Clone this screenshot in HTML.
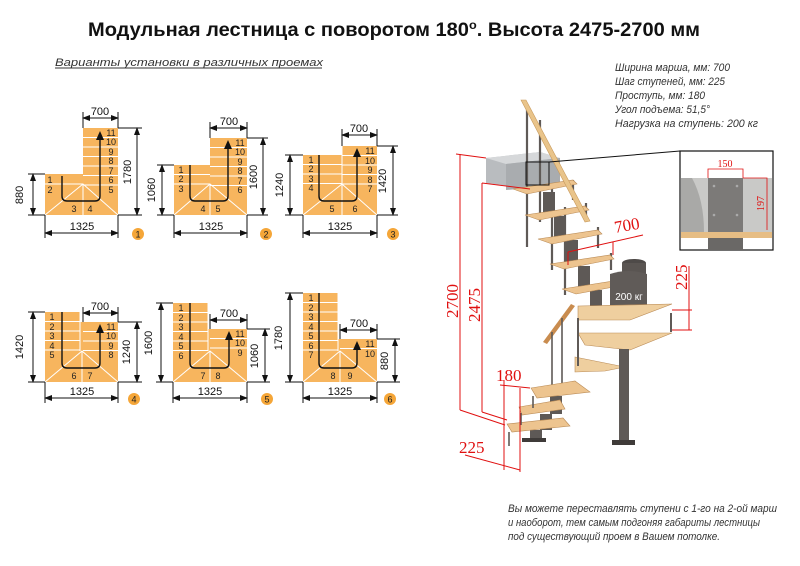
<!DOCTYPE html>
<html><head><meta charset="utf-8"><style>
html,body{margin:0;padding:0;background:#fff}
svg{display:block}
.t{font-family:"Liberation Sans",sans-serif}
.n{font-family:"Liberation Sans",sans-serif;font-size:9px;fill:#222}
.d{font-family:"Liberation Sans",sans-serif;font-size:11px;fill:#111}
.it{font-family:"Liberation Sans",sans-serif;font-style:italic;font-size:11px;fill:#333}
.r{font-family:"Liberation Serif",serif;font-size:17px;fill:#e01010}
</style></head><body>
<svg width="800" height="566" viewBox="0 0 800 566" xmlns="http://www.w3.org/2000/svg">
<defs>
<marker id="a" markerWidth="8" markerHeight="8" refX="7" refY="4" orient="auto-start-reverse" markerUnits="userSpaceOnUse"><path d="M0,1 L8,4 L0,7z" fill="#111"/></marker>
</defs>
<rect width="800" height="566" fill="#fff"/>
<text class="t" x="88" y="36" font-size="19" font-weight="bold" textLength="612" lengthAdjust="spacingAndGlyphs" fill="#111">Модульная лестница с поворотом 180<tspan dy="-7" font-size="12">o</tspan><tspan dy="7">. Высота 2475-2700 мм</tspan></text>
<text class="it" x="55" y="66" font-size="12" textLength="268" lengthAdjust="spacingAndGlyphs">Варианты установки в различных проемах</text>
<line x1="55" y1="68" x2="322" y2="68" stroke="#333" stroke-width="1"/>
<g class="it" font-size="11">
<text x="615" y="71" textLength="115" lengthAdjust="spacingAndGlyphs">Ширина марша, мм: 700</text>
<text x="615" y="85" textLength="110" lengthAdjust="spacingAndGlyphs">Шаг ступеней, мм: 225</text>
<text x="615" y="99" textLength="90" lengthAdjust="spacingAndGlyphs">Проступь, мм: 180</text>
<text x="615" y="113" textLength="95" lengthAdjust="spacingAndGlyphs">Угол подъема: 51,5°</text>
<text x="615" y="127" textLength="143" lengthAdjust="spacingAndGlyphs">Нагрузка на ступень: 200 кг</text>
</g>
<g class="it" font-size="10.5">
<text x="508" y="512" textLength="269" lengthAdjust="spacingAndGlyphs">Вы можете переставлять ступени с 1-го на 2-ой марш</text>
<text x="508" y="526" textLength="252" lengthAdjust="spacingAndGlyphs">и наоборот, тем самым подгоняя габариты лестницы</text>
<text x="508" y="540" textLength="212" lengthAdjust="spacingAndGlyphs">под существующий проем в Вашем потолке.</text>
</g>

<!-- PLAN 1 -->
<g>
<path d="M45,174H83V128H118V215H45z" fill="#f7b55e"/>
<g stroke="#fff" stroke-width="1" fill="none">
<line x1="83" y1="137.5" x2="118" y2="137.5"/><line x1="83" y1="147" x2="118" y2="147"/><line x1="83" y1="156.5" x2="118" y2="156.5"/><line x1="83" y1="166" x2="118" y2="166"/><line x1="83" y1="175.5" x2="118" y2="175.5"/><line x1="83" y1="185" x2="118" y2="185"/>
<line x1="45" y1="184" x2="83" y2="184"/>
<path d="M45,215L83,184L118,215M83,184V215"/>
</g>
<g class="n" text-anchor="middle"><text x="50" y="183">1</text><text x="50" y="193">2</text><text x="74" y="212">3</text><text x="90" y="212">4</text>
<text x="111" y="136">11</text><text x="111" y="145">10</text><text x="111" y="155">9</text><text x="111" y="164">8</text><text x="111" y="174">7</text><text x="111" y="183">6</text><text x="111" y="193">5</text></g>
<path d="M62,176V196Q62,201 67,201H95Q100,201 100,196V136" stroke="#111" stroke-width="1.4" fill="none"/><path d="M96,140L100,131L104,140z" fill="#111"/>
<g stroke="#111" stroke-width="1" fill="none"><line x1="83" y1="118" x2="118" y2="118" marker-start="url(#a)" marker-end="url(#a)"/><line x1="83" y1="112" x2="83" y2="128"/><line x1="118" y1="112" x2="118" y2="128"/>
<line x1="137" y1="128" x2="137" y2="215" marker-start="url(#a)" marker-end="url(#a)"/><line x1="118" y1="128" x2="142" y2="128"/>
<line x1="33" y1="174" x2="33" y2="215" marker-start="url(#a)" marker-end="url(#a)"/><line x1="28" y1="174" x2="45" y2="174"/><line x1="28" y1="215" x2="45" y2="215"/><line x1="118" y1="215" x2="142" y2="215"/>
<line x1="45" y1="233" x2="118" y2="233" marker-start="url(#a)" marker-end="url(#a)"/><line x1="45" y1="215" x2="45" y2="238"/><line x1="118" y1="215" x2="118" y2="238"/></g>
<g class="d" text-anchor="middle"><text x="100" y="115">700</text><text x="82" y="230">1325</text><text transform="translate(131,172) rotate(-90)">1780</text><text transform="translate(23,195) rotate(-90)">880</text></g>
<circle cx="138" cy="234" r="6" fill="#f5a638"/><text class="n" x="138" y="237.5" text-anchor="middle">1</text>
</g>

<!-- PLAN 2 -->
<g>
<path d="M174,165H210V138H247V215H174z" fill="#f7b55e"/>
<g stroke="#fff" stroke-width="1" fill="none">
<line x1="210" y1="147.5" x2="247" y2="147.5"/><line x1="210" y1="157" x2="247" y2="157"/><line x1="210" y1="166.5" x2="247" y2="166.5"/><line x1="210" y1="176" x2="247" y2="176"/><line x1="210" y1="185.5" x2="247" y2="185.5"/>
<line x1="174" y1="174.5" x2="210" y2="174.5"/><line x1="174" y1="184" x2="210" y2="184"/>
<path d="M174,215L210,184L247,215M210,184V215"/>
</g>
<g class="n" text-anchor="middle"><text x="181" y="173">1</text><text x="181" y="182">2</text><text x="181" y="192">3</text><text x="203" y="212">4</text><text x="218" y="212">5</text>
<text x="240" y="146">11</text><text x="240" y="155">10</text><text x="240" y="165">9</text><text x="240" y="174">8</text><text x="240" y="184">7</text><text x="240" y="193">6</text></g>
<path d="M190,165V196Q190,201 195,201H223Q228,201 228,196V146" stroke="#111" stroke-width="1.4" fill="none"/><path d="M224,149L228,140L232,149z" fill="#111"/>
<g stroke="#111" stroke-width="1" fill="none"><line x1="210" y1="128" x2="247" y2="128" marker-start="url(#a)" marker-end="url(#a)"/><line x1="210" y1="122" x2="210" y2="138"/><line x1="247" y1="122" x2="247" y2="138"/>
<line x1="263" y1="138" x2="263" y2="215" marker-start="url(#a)" marker-end="url(#a)"/><line x1="247" y1="138" x2="268" y2="138"/><line x1="247" y1="215" x2="268" y2="215"/>
<line x1="162" y1="165" x2="162" y2="215" marker-start="url(#a)" marker-end="url(#a)"/><line x1="157" y1="165" x2="174" y2="165"/><line x1="157" y1="215" x2="174" y2="215"/>
<line x1="174" y1="233" x2="247" y2="233" marker-start="url(#a)" marker-end="url(#a)"/><line x1="174" y1="215" x2="174" y2="238"/><line x1="247" y1="215" x2="247" y2="238"/></g>
<g class="d" text-anchor="middle"><text x="229" y="125">700</text><text x="211" y="230">1325</text><text transform="translate(257,177) rotate(-90)">1600</text><text transform="translate(155,190) rotate(-90)">1060</text></g>
<circle cx="266" cy="234" r="6" fill="#f5a638"/><text class="n" x="266" y="237.5" text-anchor="middle">2</text>
</g>

<!-- PLAN 3 -->
<g>
<path d="M303,155H342V146H377V215H303z" fill="#f7b55e"/>
<g stroke="#fff" stroke-width="1" fill="none">
<line x1="342" y1="155.5" x2="377" y2="155.5"/><line x1="342" y1="165" x2="377" y2="165"/><line x1="342" y1="174.5" x2="377" y2="174.5"/><line x1="342" y1="184" x2="377" y2="184"/>
<line x1="303" y1="164.5" x2="342" y2="164.5"/><line x1="303" y1="174" x2="342" y2="174"/><line x1="303" y1="183.5" x2="342" y2="183.5"/>
<line x1="342" y1="146" x2="342" y2="184"/>
<path d="M303,215L342,184L377,215M342,184V215"/>
</g>
<g class="n" text-anchor="middle"><text x="311" y="163">1</text><text x="311" y="172">2</text><text x="311" y="182">3</text><text x="311" y="191">4</text><text x="332" y="212">5</text><text x="355" y="212">6</text>
<text x="370" y="154">11</text><text x="370" y="164">10</text><text x="370" y="173">9</text><text x="370" y="183">8</text><text x="370" y="192">7</text></g>
<path d="M319,155V196Q319,201 324,201H352Q357,201 357,196V154" stroke="#111" stroke-width="1.4" fill="none"/><path d="M353,157L357,148L361,157z" fill="#111"/>
<g stroke="#111" stroke-width="1" fill="none"><line x1="342" y1="135" x2="377" y2="135" marker-start="url(#a)" marker-end="url(#a)"/><line x1="342" y1="129" x2="342" y2="146"/><line x1="377" y1="129" x2="377" y2="146"/>
<line x1="393" y1="146" x2="393" y2="215" marker-start="url(#a)" marker-end="url(#a)"/><line x1="377" y1="146" x2="398" y2="146"/><line x1="377" y1="215" x2="398" y2="215"/>
<line x1="290" y1="155" x2="290" y2="215" marker-start="url(#a)" marker-end="url(#a)"/><line x1="285" y1="155" x2="303" y2="155"/><line x1="285" y1="215" x2="303" y2="215"/>
<line x1="303" y1="233" x2="377" y2="233" marker-start="url(#a)" marker-end="url(#a)"/><line x1="303" y1="215" x2="303" y2="238"/><line x1="377" y1="215" x2="377" y2="238"/></g>
<g class="d" text-anchor="middle"><text x="359" y="132">700</text><text x="340" y="230">1325</text><text transform="translate(386,181) rotate(-90)">1420</text><text transform="translate(283,185) rotate(-90)">1240</text></g>
<circle cx="393" cy="234" r="6" fill="#f5a638"/><text class="n" x="393" y="237.5" text-anchor="middle">3</text>
</g>

<!-- PLAN 4 -->
<g>
<path d="M45,312H80V322H118V382H45z" fill="#f7b55e"/>
<g stroke="#fff" stroke-width="1" fill="none">
<line x1="80" y1="312" x2="80" y2="351"/>
<line x1="45" y1="321.5" x2="80" y2="321.5"/><line x1="45" y1="331" x2="80" y2="331"/><line x1="45" y1="340.5" x2="80" y2="340.5"/><line x1="45" y1="350" x2="80" y2="350"/>
<line x1="83" y1="331.5" x2="118" y2="331.5"/><line x1="83" y1="341" x2="118" y2="341"/><line x1="83" y1="350.5" x2="118" y2="350.5"/>
<path d="M45,382L82,351L118,382M82,351V382"/>
</g>
<g class="n" text-anchor="middle"><text x="52" y="320">1</text><text x="52" y="330">2</text><text x="52" y="339">3</text><text x="52" y="349">4</text><text x="52" y="358">5</text><text x="74" y="379">6</text><text x="90" y="379">7</text>
<text x="111" y="330">11</text><text x="111" y="339">10</text><text x="111" y="349">9</text><text x="111" y="358">8</text></g>
<path d="M62,312V363Q62,368 67,368H95Q100,368 100,363V330" stroke="#111" stroke-width="1.4" fill="none"/><path d="M96,333L100,324L104,333z" fill="#111"/>
<g stroke="#111" stroke-width="1" fill="none"><line x1="83" y1="313" x2="118" y2="313" marker-start="url(#a)" marker-end="url(#a)"/><line x1="83" y1="307" x2="83" y2="322"/><line x1="118" y1="307" x2="118" y2="322"/>
<line x1="137" y1="322" x2="137" y2="382" marker-start="url(#a)" marker-end="url(#a)"/><line x1="118" y1="322" x2="142" y2="322"/><line x1="118" y1="382" x2="142" y2="382"/>
<line x1="33" y1="312" x2="33" y2="382" marker-start="url(#a)" marker-end="url(#a)"/><line x1="28" y1="312" x2="45" y2="312"/><line x1="28" y1="382" x2="45" y2="382"/>
<line x1="45" y1="398" x2="118" y2="398" marker-start="url(#a)" marker-end="url(#a)"/><line x1="45" y1="382" x2="45" y2="403"/><line x1="118" y1="382" x2="118" y2="403"/></g>
<g class="d" text-anchor="middle"><text x="100" y="310">700</text><text x="82" y="395">1325</text><text transform="translate(130,352) rotate(-90)">1240</text><text transform="translate(23,347) rotate(-90)">1420</text></g>
<circle cx="134" cy="399" r="6" fill="#f5a638"/><text class="n" x="134" y="402.5" text-anchor="middle">4</text>
</g>

<!-- PLAN 5 -->
<g>
<path d="M173,303H208V329H247V382H173z" fill="#f7b55e"/>
<g stroke="#fff" stroke-width="1" fill="none">
<line x1="208" y1="303" x2="208" y2="351"/>
<line x1="173" y1="312.5" x2="208" y2="312.5"/><line x1="173" y1="322" x2="208" y2="322"/><line x1="173" y1="331.5" x2="208" y2="331.5"/><line x1="173" y1="341" x2="208" y2="341"/><line x1="173" y1="350.5" x2="208" y2="350.5"/>
<line x1="210" y1="338.5" x2="247" y2="338.5"/><line x1="210" y1="348" x2="247" y2="348"/>
<path d="M173,382L210,351L247,382M210,351V382"/>
</g>
<g class="n" text-anchor="middle"><text x="181" y="311">1</text><text x="181" y="321">2</text><text x="181" y="330">3</text><text x="181" y="340">4</text><text x="181" y="349">5</text><text x="181" y="359">6</text><text x="203" y="379">7</text><text x="218" y="379">8</text>
<text x="240" y="337">11</text><text x="240" y="346">10</text><text x="240" y="356">9</text></g>
<path d="M190,303V363Q190,368 195,368H224Q229,368 229,363V337" stroke="#111" stroke-width="1.4" fill="none"/><path d="M225,340L229,331L233,340z" fill="#111"/>
<g stroke="#111" stroke-width="1" fill="none"><line x1="210" y1="320" x2="247" y2="320" marker-start="url(#a)" marker-end="url(#a)"/><line x1="210" y1="314" x2="210" y2="329"/><line x1="247" y1="314" x2="247" y2="329"/>
<line x1="265" y1="329" x2="265" y2="382" marker-start="url(#a)" marker-end="url(#a)"/><line x1="247" y1="329" x2="270" y2="329"/><line x1="247" y1="382" x2="270" y2="382"/>
<line x1="161" y1="303" x2="161" y2="382" marker-start="url(#a)" marker-end="url(#a)"/><line x1="156" y1="303" x2="173" y2="303"/><line x1="156" y1="382" x2="173" y2="382"/>
<line x1="173" y1="398" x2="247" y2="398" marker-start="url(#a)" marker-end="url(#a)"/><line x1="173" y1="382" x2="173" y2="403"/><line x1="247" y1="382" x2="247" y2="403"/></g>
<g class="d" text-anchor="middle"><text x="229" y="317">700</text><text x="210" y="395">1325</text><text transform="translate(258,356) rotate(-90)">1060</text><text transform="translate(152,343) rotate(-90)">1600</text></g>
<circle cx="267" cy="399" r="6" fill="#f5a638"/><text class="n" x="267" y="402.5" text-anchor="middle">5</text>
</g>

<!-- PLAN 6 -->
<g>
<path d="M303,293H338V339H377V382H303z" fill="#f7b55e"/>
<g stroke="#fff" stroke-width="1" fill="none">
<line x1="338" y1="293" x2="338" y2="351"/>
<line x1="303" y1="302.5" x2="338" y2="302.5"/><line x1="303" y1="312" x2="338" y2="312"/><line x1="303" y1="321.5" x2="338" y2="321.5"/><line x1="303" y1="331" x2="338" y2="331"/><line x1="303" y1="340.5" x2="338" y2="340.5"/><line x1="303" y1="350" x2="338" y2="350"/>
<line x1="340" y1="348.5" x2="377" y2="348.5"/>
<path d="M303,382L340,351L377,382M340,351V382"/>
</g>
<g class="n" text-anchor="middle"><text x="311" y="301">1</text><text x="311" y="311">2</text><text x="311" y="320">3</text><text x="311" y="330">4</text><text x="311" y="339">5</text><text x="311" y="349">6</text><text x="311" y="358">7</text><text x="333" y="379">8</text><text x="350" y="379">9</text>
<text x="370" y="347">11</text><text x="370" y="357">10</text></g>
<path d="M319,293V363Q319,368 324,368H352Q357,368 357,363V347" stroke="#111" stroke-width="1.4" fill="none"/><path d="M353,350L357,341L361,350z" fill="#111"/>
<g stroke="#111" stroke-width="1" fill="none"><line x1="340" y1="330" x2="377" y2="330" marker-start="url(#a)" marker-end="url(#a)"/><line x1="340" y1="324" x2="340" y2="339"/><line x1="377" y1="324" x2="377" y2="339"/>
<line x1="395" y1="339" x2="395" y2="382" marker-start="url(#a)" marker-end="url(#a)"/><line x1="377" y1="339" x2="400" y2="339"/><line x1="377" y1="382" x2="400" y2="382"/>
<line x1="290" y1="293" x2="290" y2="382" marker-start="url(#a)" marker-end="url(#a)"/><line x1="285" y1="293" x2="303" y2="293"/><line x1="285" y1="382" x2="303" y2="382"/>
<line x1="303" y1="398" x2="377" y2="398" marker-start="url(#a)" marker-end="url(#a)"/><line x1="303" y1="382" x2="303" y2="403"/><line x1="377" y1="382" x2="377" y2="403"/></g>
<g class="d" text-anchor="middle"><text x="359" y="327">700</text><text x="340" y="395">1325</text><text transform="translate(388,361) rotate(-90)">880</text><text transform="translate(282,338) rotate(-90)">1780</text></g>
<circle cx="390" cy="399" r="6" fill="#f5a638"/><text class="n" x="390" y="402.5" text-anchor="middle">6</text>
</g>

<!-- STAIRCASE -->
<g>
<path d="M486,158L540,152L560,158L560,186L540,190L486,183z" fill="#b9bcbf"/>
<path d="M486,158L540,152L560,158L506,164z" fill="#d6d8da"/>
<path d="M506,164L560,158L560,186L506,190z" fill="#a9acaf"/>
<g stroke="#5f5a57" stroke-width="2.2">
<line x1="527" y1="110" x2="527" y2="247"/><line x1="540" y1="120" x2="540" y2="222"/>
<line x1="552" y1="185" x2="552" y2="270"/><line x1="565" y1="207" x2="565" y2="295"/>
<line x1="573" y1="180" x2="573" y2="200"/><line x1="586" y1="203" x2="586" y2="222"/><line x1="598" y1="227" x2="598" y2="248"/><line x1="611" y1="253" x2="611" y2="270"/>
</g>
<g fill="#5e5956"><rect x="543" y="192" width="12" height="22"/><rect x="554" y="216" width="12" height="22"/><rect x="566" y="240" width="12" height="24"/><rect x="578" y="266" width="12" height="22"/><rect x="590" y="290" width="12" height="18"/></g>
<g fill="#edc48f" stroke="#b98a55" stroke-width="0.6">
<path d="M513,189L573,180L577,184L527,194z"/><path d="M525,215L585,206L589,210L539,220z"/><path d="M538,239L598,230L602,234L552,244z"/><path d="M550,264L610,255L614,259L564,269z"/><path d="M562,289L620,280L624,285L576,294z"/>
</g>
<path d="M521,100L526,100L590,221L585,222z" fill="#e9c48a" stroke="#c99a5c" stroke-width="0.6"/>
<ellipse cx="634" cy="263" rx="12" ry="4" fill="#4e4a48"/>
<rect x="622" y="263" width="24" height="12" fill="#5a5552"/>
<path d="M610,274Q628,268 647,274V313Q628,319 610,313z" fill="#605b58"/>
<text x="629" y="300" text-anchor="middle" font-family="Liberation Sans,sans-serif" font-size="10" fill="#fff">200 кг</text>
<path d="M578,306L672,304L630,320L578,320z" fill="#efcf9f" stroke="#b98a55" stroke-width="0.6"/>
<path d="M578,333L672,333L630,350L585,345z" fill="#efcf9f" stroke="#b98a55" stroke-width="0.6"/>
<path d="M575,357L625,367L605,371L575,372z" fill="#efcf9f" stroke="#b98a55" stroke-width="0.6"/>
<g stroke="#5f5a57" stroke-width="2"><line x1="671" y1="313" x2="671" y2="332"/><line x1="578" y1="318" x2="578" y2="366"/></g>
<rect x="619" y="349" width="10" height="93" fill="#5f5a57"/>
<rect x="612" y="440" width="23" height="5" fill="#3f3b39"/>
<path d="M543,342L571,304L575,306L547,344z" fill="#c98c4f"/>
<g stroke="#5f5a57" stroke-width="1.6"><line x1="552" y1="332" x2="552" y2="392"/><line x1="562" y1="318" x2="562" y2="390"/></g>
<g fill="#5e5956"><rect x="550" y="396" width="12" height="18"/><rect x="540" y="414" width="12" height="16"/><rect x="530" y="430" width="12" height="12"/><rect x="522" y="438" width="24" height="4" fill="#3f3b39"/></g>
<g fill="#edc48f" stroke="#b98a55" stroke-width="0.6">
<path d="M531,388L575,381L590,392L537,398z"/><path d="M519,407L560,400L565,409L522,415z"/><path d="M507,424L563,418L570,426L512,432z"/>
</g>
<g stroke="#5f5a57" stroke-width="1.6"><line x1="509" y1="432" x2="509" y2="446"/><line x1="521" y1="413" x2="521" y2="425"/><line x1="533" y1="396" x2="533" y2="408"/></g>
<g stroke="#e01010" stroke-width="1" fill="none">
<line x1="460" y1="154" x2="460" y2="410"/><line x1="456" y1="154" x2="486" y2="158"/>
<line x1="482" y1="183" x2="482" y2="412"/><line x1="482" y1="183" x2="530" y2="189"/>
<line x1="460" y1="410" x2="505" y2="425"/><line x1="482" y1="412" x2="507" y2="420"/>
<line x1="500" y1="385" x2="530" y2="388"/><line x1="504" y1="380" x2="504" y2="470"/><line x1="520" y1="388" x2="520" y2="472"/>
<line x1="465" y1="455" x2="520" y2="470"/>
<line x1="568" y1="252" x2="643" y2="235"/><line x1="568" y1="252" x2="568" y2="265"/><line x1="613" y1="242" x2="613" y2="255"/>
<line x1="689" y1="266" x2="689" y2="330"/><line x1="672" y1="310" x2="692" y2="310"/><line x1="672" y1="330" x2="692" y2="330"/>
</g>
<text class="r" transform="translate(458,318) rotate(-90)">2700</text>
<text class="r" transform="translate(480,322) rotate(-90)">2475</text>
<text class="r" x="614" y="230" transform="rotate(-10,632,224)">700</text>
<text class="r" transform="translate(687,290) rotate(-90)">225</text>
<text class="r" x="496" y="381">180</text>
<text class="r" x="459" y="453">225</text>
<rect x="526" y="162" width="23" height="23" fill="none" stroke="#111" stroke-width="1"/>
<line x1="549" y1="162" x2="680" y2="151" stroke="#111" stroke-width="1"/>
<rect x="680" y="151" width="93" height="99" fill="#fff" stroke="#111" stroke-width="1.2"/>
<rect x="681" y="178" width="91" height="54" fill="#c9c9c7"/>
<path d="M681,178H692Q704,200 704,232H681z" fill="#a9a9a7"/>
<rect x="708" y="178" width="35" height="54" fill="#7c7a78"/>
<rect x="708" y="238" width="35" height="12" fill="#6a6866"/>
<rect x="681" y="232" width="91" height="6" fill="#e6bd84"/>
<g fill="#aaa"><circle cx="714" cy="186" r="1.3"/><circle cx="737" cy="186" r="1.3"/><circle cx="714" cy="215" r="1.3"/><circle cx="737" cy="215" r="1.3"/></g>
<g stroke="#e01010" stroke-width="0.8" fill="none"><path d="M708,178V169H743V178"/><path d="M743,178H767V230"/></g>
<text x="725" y="167" text-anchor="middle" font-family="Liberation Serif,serif" font-size="10" fill="#e01010">150</text>
<text transform="translate(764,211) rotate(-90)" font-family="Liberation Serif,serif" font-size="10" fill="#e01010">197</text>
</g>
</svg>
</body></html>
